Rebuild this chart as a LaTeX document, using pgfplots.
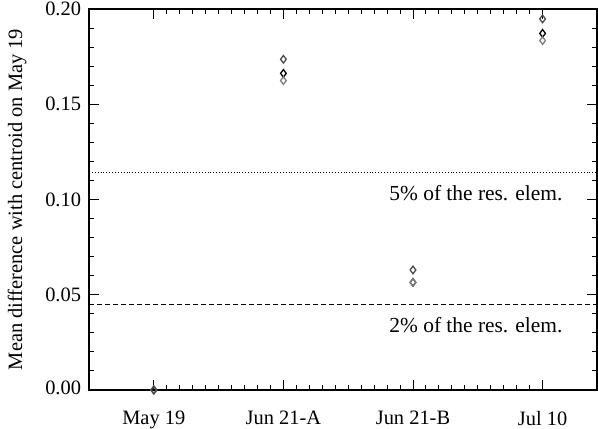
\documentclass[border=0pt]{standalone}
\usepackage{pgfplots}
\pgfplotsset{compat=1.18}
\usepackage{fontspec}
\setmainfont{Liberation Serif}
\begin{document}
\fontsize{20.5}{24}\selectfont
\begin{tikzpicture}
\path[use as bounding box] (-89bp,-39bp) rectangle (509bp,390bp);
\begin{axis}[
  scale only axis,
  anchor=south west,
  at={(0,0)},
  width=508bp, height=381bp,
  xmin=-0.5, xmax=3.42,
  ymin=0, ymax=0.2,
  xtick={0,1,2,3},
  xticklabels={May 19,Jun 21-A,Jun 21-B,Jul 10},
  minor x tick num=9,
  ytick={0,0.05,0.1,0.15,0.2},
  yticklabels={\raisebox{5bp}{0.00},0.05,0.10,0.15,\raisebox{-9bp}{0.20}},
  minor y tick num=4,
  tick align=inside,
  major tick length=10bp,
  minor tick length=5bp,
  axis line style={line width=1.2bp},
  every tick/.style={black, line width=0.9bp},
  xticklabel style={font=\fontsize{20.5}{24}\selectfont, yshift=-14bp},
  yticklabel style={font=\fontsize{20.5}{24}\selectfont, xshift=-1bp},
  ylabel={Mean difference with centroid on May 19},
  ylabel style={font=\fontsize{20.5}{24}\selectfont, at={(axis description cs:-0.1417,0.5)}, anchor=center},
  clip=true,
]
\addplot[black, only marks, mark=diamond, mark size=3.8bp, mark options={line width=1.3bp}] coordinates {(0,0) (1,0.1662) (2,0.0565) (3,0.1872)};
\addplot[black!50, only marks, mark=diamond, mark size=3.8bp, mark options={line width=1.3bp}] coordinates {(0,0) (1,0.1624) (2,0.0565) (3,0.1834)};
\addplot[black!70, only marks, mark=diamond, mark size=3.8bp, mark options={line width=1.3bp}] coordinates {(0,0) (1,0.1736) (2,0.0630) (3,0.1948)};
\addplot[black, dotted, line width=0.9bp] coordinates {(-0.5,0.1142) (3.42,0.1142)};
\addplot[black, dash pattern=on 5bp off 3bp, line width=0.9bp] coordinates {(-0.5,0.0451) (3.42,0.0451)};
\node[anchor=east, inner sep=0pt, font=\fontsize{21.5}{24}\selectfont] at (axis cs:3.155,0.1034) {5\% of the res. elem.};
\node[anchor=east, inner sep=0pt, font=\fontsize{21.5}{24}\selectfont] at (axis cs:3.155,0.0341) {2\% of the res. elem.};
\end{axis}
\end{tikzpicture}
\end{document}
